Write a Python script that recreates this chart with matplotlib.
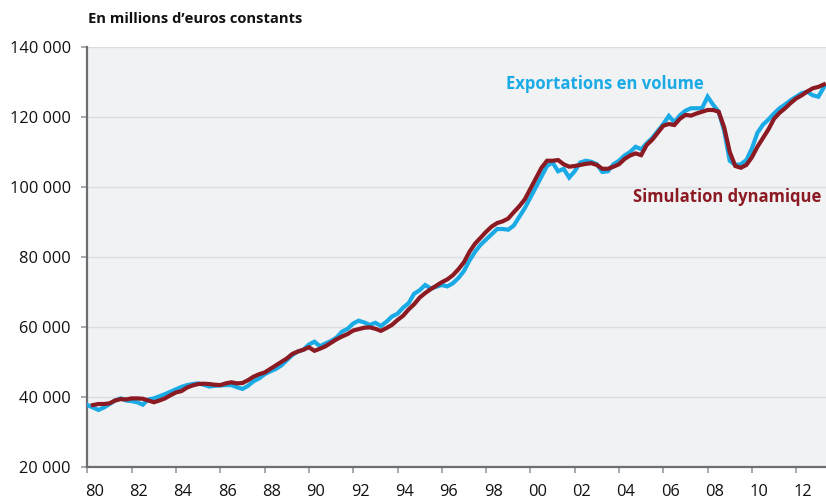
import matplotlib
matplotlib.use("Agg")
import matplotlib.pyplot as plt
import matplotlib.transforms as mtransforms
import numpy as np

plt.rcParams['font.family'] = ['Open Sans', 'DejaVu Sans']

# Quarterly data, 1980Q1 onwards (millions of constant euros)
exports_start = 1980.0
exports = [
    37700, 37000, 36300, 37000,   # 1980
    38000, 39000, 39600, 39000,   # 1981
    38800, 38500, 37800, 39300,   # 1982
    39600, 40200, 40800, 41500,   # 1983
    42200, 42900, 43400, 43700,   # 1984
    43900, 43500, 43000, 43200,   # 1985
    43300, 43400, 43400, 42800,   # 1986
    42300, 43200, 44500, 45300,   # 1987
    46500, 47300, 48000, 49000,   # 1988
    50500, 52000, 53000, 53500,   # 1989
    55000, 55800, 54500, 55300,   # 1990
    56000, 57000, 58700, 59500,   # 1991
    61000, 61800, 61300, 60600,   # 1992
    61200, 60300, 61500, 63000,   # 1993
    63800, 65500, 66800, 69500,   # 1994
    70500, 72000, 71000, 71500,   # 1995
    72000, 71600, 72500, 74000,   # 1996
    76000, 79000, 81500, 83500,   # 1997
    85000, 86500, 88000, 88000,   # 1998
    87800, 89000, 91500, 94000,   # 1999
    97000, 100000, 103000, 106000,  # 2000
    107000, 104500, 105200, 102700,  # 2001
    104500, 107000, 107500, 107200,  # 2002
    106500, 104300, 104500, 106500,  # 2003
    107500, 109000, 110000, 111500,  # 2004
    110800, 112500, 114000, 116000,  # 2005
    118000, 120300, 118500, 120500,  # 2006
    121800, 122500, 122500, 122500,  # 2007
    125800, 123500, 121500, 116000,  # 2008
    107500, 106300, 106500, 107700,  # 2009
    111000, 115500, 117800, 119300,  # 2010
    121000, 122500, 123600, 124800,  # 2011
    125800, 126800, 127200, 126200,  # 2012
    125800, 128500,                  # 2013
]

simulation_start = 1980.25
simulation = [
    37700, 38000, 38000,          # 1980
    38200, 39000, 39400, 39300,   # 1981
    39600, 39600, 39500, 39000,   # 1982
    38500, 39000, 39600, 40500,   # 1983
    41300, 41700, 42700, 43300,   # 1984
    43700, 43800, 43700, 43500,   # 1985
    43400, 43900, 44200, 43900,   # 1986
    44000, 44800, 45800, 46500,   # 1987
    47000, 48000, 49000, 50000,   # 1988
    51000, 52300, 53000, 53500,   # 1989
    54200, 53200, 53800, 54500,   # 1990
    55500, 56500, 57300, 58000,   # 1991
    59000, 59400, 59800, 59900,   # 1992
    59500, 58900, 59700, 60600,   # 1993
    62000, 63200, 65000, 66500,   # 1994
    68400, 69700, 70800, 71800,   # 1995
    72800, 73600, 74800, 76500,   # 1996
    78500, 81500, 83800, 85500,   # 1997
    87200, 88700, 89700, 90200,   # 1998
    91000, 92800, 94500, 96500,   # 1999
    99500, 102500, 105500, 107500,  # 2000
    107500, 107700, 106500, 105800,  # 2001
    106000, 106300, 106600, 106800,  # 2002
    106300, 105200, 105200, 105800,  # 2003
    106500, 108000, 109000, 109600,  # 2004
    109100, 112000, 113500, 115500,  # 2005
    117500, 118000, 117700, 119500,  # 2006
    120600, 120400, 121000, 121500,  # 2007
    122000, 122000, 121500, 117000,  # 2008
    110000, 106000, 105500, 106300,  # 2009
    108500, 111500, 114000, 116500,  # 2010
    119500, 121200, 122500, 124000,  # 2011
    125300, 126200, 127300, 128200,  # 2012
    128600, 129300,                  # 2013
]

x_ticks = list(range(1980, 2013, 2))
x_tick_labels = [f"{y % 100:02d}" for y in x_ticks]
y_ticks = [20000, 40000, 60000, 80000, 100000, 120000, 140000]
y_tick_labels = [f"{v // 1000} 000" for v in y_ticks]

title = "En millions d\u2019euros constants"
label_exports = "Exportations en volume"
label_sim = "Simulation dynamique"

BLUE = "#1aabe6"
RED = "#8b1a22"
AX_BG = "#f1f2f4"
GRID = "#dcdde0"
SPINE = "#6d6e71"

W, H = 826, 499
fig = plt.figure(figsize=(W / 100, H / 100), dpi=100)
left_px, right_px, top_px, bottom_px = 87.4, 826, 47, 467
ax = fig.add_axes([left_px / W, (H - bottom_px) / H,
                   (right_px - left_px) / W, (bottom_px - top_px) / H])
ax.set_facecolor(AX_BG)

tx = exports_start + np.arange(len(exports)) / 4.0
ts = simulation_start + np.arange(len(simulation)) / 4.0
ax.plot(tx, exports, color=BLUE, lw=3.0, solid_joinstyle='miter', zorder=3)
ax.plot(ts, simulation, color=RED, lw=3.0, solid_joinstyle='miter', zorder=4)

ax.set_xlim(1980, 1980 + (right_px - left_px) / 22.15)
ax.set_ylim(20000, 140000)

ax.set_yticks(y_ticks)
ax.set_yticklabels(y_tick_labels)
ax.set_xticks(x_ticks)
ax.set_xticklabels(x_tick_labels)

ax.grid(axis='y', color=GRID, lw=1.0, zorder=1)
ax.set_axisbelow(True)

for s in ['top', 'right']:
    ax.spines[s].set_visible(False)
for s in ['left', 'bottom']:
    ax.spines[s].set_color(SPINE)
    ax.spines[s].set_linewidth(1.6)

ax.tick_params(axis='both', direction='out', length=4, width=1.2, color="#9a9b9e",
               labelsize=11.8, labelcolor="#111111")
ax.tick_params(axis='y', pad=8)
ax.tick_params(axis='x', pad=8)

offset = mtransforms.ScaledTranslation(7 / 100, 0, fig.dpi_scale_trans)
for lbl in ax.get_xticklabels():
    lbl.set_transform(lbl.get_transform() + offset)

fig.text(88 / W, 1 - 23 / H, title, fontsize=10.6, fontweight='bold',
         color="#111111", va='baseline', ha='left')

ax.text(1998.9, 127900, label_exports, color=BLUE, fontsize=12,
        fontweight='bold', va='baseline', ha='left')
ax.text(2004.63, 95800, label_sim, color=RED, fontsize=12,
        fontweight='bold', va='baseline', ha='left')

fig.savefig("out.png", dpi=100)
